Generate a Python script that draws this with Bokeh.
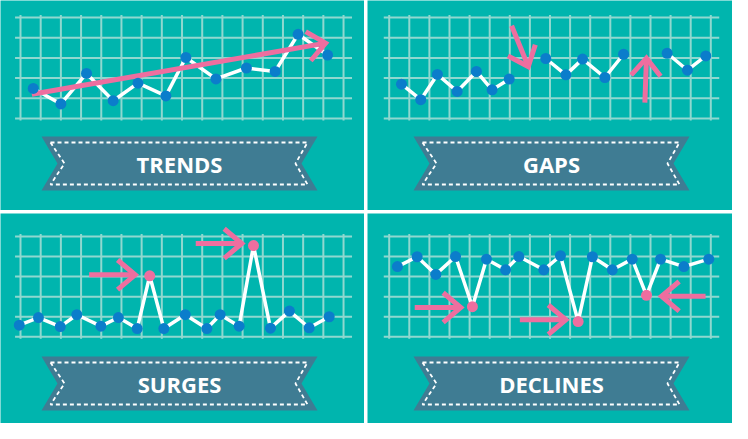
import math
from bokeh.plotting import figure
from bokeh.layouts import row, column
from bokeh.models import Range1d, ColumnDataSource
from bokeh.core.properties import value
from bokeh.embed import file_html
from bokeh.resources import INLINE

NaN = float("nan")

# ---------------- data (grid units: columns 0..16, rows 0..5) ----------------
titles = ["TRENDS", "GAPS", "SURGES", "DECLINES"]

trend_x = [0.63, 2.00, 3.27, 4.59, 5.82, 7.20, 8.19, 9.68, 11.19, 12.61, 13.75, 15.21]
trend_y = [1.49, 0.72, 2.23, 0.88, 1.75, 1.12, 3.02, 1.96, 2.50, 2.33, 4.17, 3.14]
trend_hl = []
trend_arrow_x0 = [0.56]
trend_arrow_y0 = [1.20]
trend_arrow_x1 = [15.11]
trend_arrow_y1 = [3.73]

gaps_x = [0.61, 1.57, 2.40, 3.38, 4.34, 5.12, 5.97, NaN,
          7.79, 8.79, 9.62, 10.73, 11.66, NaN,
          13.83, 14.84, 15.75]
gaps_y = [1.70, 0.93, 2.18, 1.34, 2.33, 1.42, 1.95, NaN,
          2.97, 2.16, 2.94, 2.03, 3.18, NaN,
          3.23, 2.39, 3.10]
gaps_hl = []
gaps_arrow_x0 = [6.09, 12.72]
gaps_arrow_y0 = [4.59, 0.79]
gaps_arrow_x1 = [6.92, 12.80]
gaps_arrow_y1 = [2.57, 2.99]

surge_x = [-0.06, 0.89, 1.97, 2.79, 3.98, 4.85, 5.78, 6.40, 7.10, 8.16,
           9.23, 9.89, 10.83, 11.54, 12.38, 13.32, 14.30, 15.29]
surge_y = [0.58, 0.96, 0.51, 1.10, 0.53, 0.96, 0.41, 3.04, 0.41, 1.10,
           0.41, 1.10, 0.53, 4.55, 0.43, 1.28, 0.45, 1.00]
surge_hl = [7, 13]
surge_arrow_x0 = [3.40, 8.68]
surge_arrow_y0 = [3.09, 4.65]
surge_arrow_x1 = [5.68, 10.96]
surge_arrow_y1 = [3.09, 4.65]

decl_x = [0.41, 1.39, 2.32, 3.30, 4.14, 4.84, 5.79, 6.45, 7.69, 8.52,
          9.40, 10.11, 11.10, 12.09, 12.80, 13.50, 14.66, 15.90]
decl_y = [3.50, 3.99, 3.11, 4.00, 1.50, 3.87, 3.34, 4.00, 3.34, 4.04,
          0.76, 3.99, 3.34, 3.87, 2.07, 3.87, 3.50, 3.87]
decl_hl = [4, 10, 14]
decl_arrow_x0 = [1.27, 6.50, 15.74]
decl_arrow_y0 = [1.46, 0.85, 2.02]
decl_arrow_x1 = [3.56, 8.79, 13.55]
decl_arrow_y1 = [1.46, 0.85, 2.02]

grid_cols = list(range(17))
grid_rows = list(range(6))

# ---------------- styles / layout ----------------
TEAL = "#00b5ae"
GRIDC = "#8fd8cf"
BANNER = "#3f7c93"
PINK = "#ee6e9f"
BLUE = "#0b7dcb"

# grid origin px, px per column, grid baseline px, px per row ; frame px box ; banner centre x, banner top y
panels = [
    dict(grid=(28.0, 20.19, 126.0, 20.2), frame=(8, 372, 8, 218), banner=(187, 144)),
    dict(grid=(396.7, 20.1, 126.0, 20.2), frame=(375, 740, 8, 218), banner=(559, 144)),
    dict(grid=(28.0, 20.19, 344.3, 20.06), frame=(8, 372, 221, 431), banner=(187, 364)),
    dict(grid=(396.7, 20.1, 344.3, 20.06), frame=(375, 740, 221, 431), banner=(559, 364)),
]

BANNER_OUTER = [(-138, 0), (138, 0), (122, 27), (138, 54), (-138, 54), (-122, 27)]
BANNER_INNER = [(-129, 6), (128, 6), (116, 27), (128, 48), (-129, 48), (-115, 27), (-129, 6)]


def arrow_paths(x0s, y0s, x1s, y1s, sx, sy, L=23.0, ang=40.0):
    xs, ys = [], []
    for x0, y0, x1, y1 in zip(x0s, y0s, x1s, y1s):
        dx, dy = (x1 - x0) * sx, (y1 - y0) * sy
        n = math.hypot(dx, dy)
        bx, by = -dx / n, -dy / n
        arms = []
        for s in (1, -1):
            a = math.radians(ang) * s
            ax = bx * math.cos(a) - by * math.sin(a)
            ay = bx * math.sin(a) + by * math.cos(a)
            arms.append((x1 + ax * L / sx, y1 + ay * L / sy))
        xs.append([x0, x1])
        ys.append([y0, y1])
        xs.append([arms[0][0], x1, arms[1][0]])
        ys.append([arms[0][1], y1, arms[1][1]])
    return xs, ys


def make_panel(cfg, title, xs, ys, hl, ax0, ay0, ax1, ay1):
    gx0, gdx, gy0, gdy = cfg["grid"]
    fx0, fx1, fy0, fy1 = cfg["frame"]
    to_x = lambda px: (px - gx0) / gdx
    to_y = lambda py: (gy0 - py) / gdy
    p = figure(width=fx1 - fx0, height=fy1 - fy0,
               x_range=Range1d(to_x(fx0), to_x(fx1)),
               y_range=Range1d(to_y(fy1), to_y(fy0)),
               output_backend="svg", toolbar_location=None, min_border=0,
               x_axis_type=None, y_axis_type=None,
               background_fill_color=TEAL, border_fill_color=TEAL,
               outline_line_color=None)
    p.grid.visible = False

    # light grid
    p.segment(x0=grid_cols, y0=[-0.1] * len(grid_cols), x1=grid_cols, y1=[5.12] * len(grid_cols),
              line_color=GRIDC, line_width=2)
    p.segment(x0=[-0.27] * len(grid_rows), y0=grid_rows, x1=[16.42] * len(grid_rows), y1=grid_rows,
              line_color=GRIDC, line_width=2)

    # series line
    p.line(xs, ys, line_color="white", line_width=3.5, line_join="round")

    # arrows
    axs, ays = arrow_paths(ax0, ay0, ax1, ay1, gdx, gdy)
    p.multi_line(axs, ays, line_color=PINK, line_width=5, line_join="miter", line_cap="butt")

    # points
    px, py, pc = [], [], []
    for i, (x, y) in enumerate(zip(xs, ys)):
        if isinstance(x, float) and math.isnan(x):
            continue
        px.append(x)
        py.append(y)
        pc.append(PINK if i in hl else BLUE)
    p.scatter(x="x", y="y", fill_color="c", line_color=None, size=11,
              source=ColumnDataSource(dict(x=px, y=py, c=pc)))

    # banner
    cx, top = cfg["banner"]
    p.patch([to_x(cx + dx) for dx, dy in BANNER_OUTER], [to_y(top + dy) for dx, dy in BANNER_OUTER],
            fill_color=BANNER, line_color=None)
    p.line([to_x(cx + dx) for dx, dy in BANNER_INNER], [to_y(top + dy) for dx, dy in BANNER_INNER],
           line_color="white", line_width=1.8, line_dash="4 3")
    p.text(x=[to_x(cx)], y=[to_y(top + 27)], text=[title],
           text_font=value("Open Sans"), text_font_size="22px", text_font_style="bold",
           text_color="white", text_align="center", text_baseline="middle")
    return p


tl = make_panel(panels[0], titles[0], trend_x, trend_y, trend_hl,
                trend_arrow_x0, trend_arrow_y0, trend_arrow_x1, trend_arrow_y1)
tr = make_panel(panels[1], titles[1], gaps_x, gaps_y, gaps_hl,
                gaps_arrow_x0, gaps_arrow_y0, gaps_arrow_x1, gaps_arrow_y1)
bl = make_panel(panels[2], titles[2], surge_x, surge_y, surge_hl,
                surge_arrow_x0, surge_arrow_y0, surge_arrow_x1, surge_arrow_y1)
br = make_panel(panels[3], titles[3], decl_x, decl_y, decl_hl,
                decl_arrow_x0, decl_arrow_y0, decl_arrow_x1, decl_arrow_y1)

layout = column(row(tl, tr, spacing=3), row(bl, br, spacing=3), spacing=3)

open("out.html", "w").write(file_html(layout, INLINE))
